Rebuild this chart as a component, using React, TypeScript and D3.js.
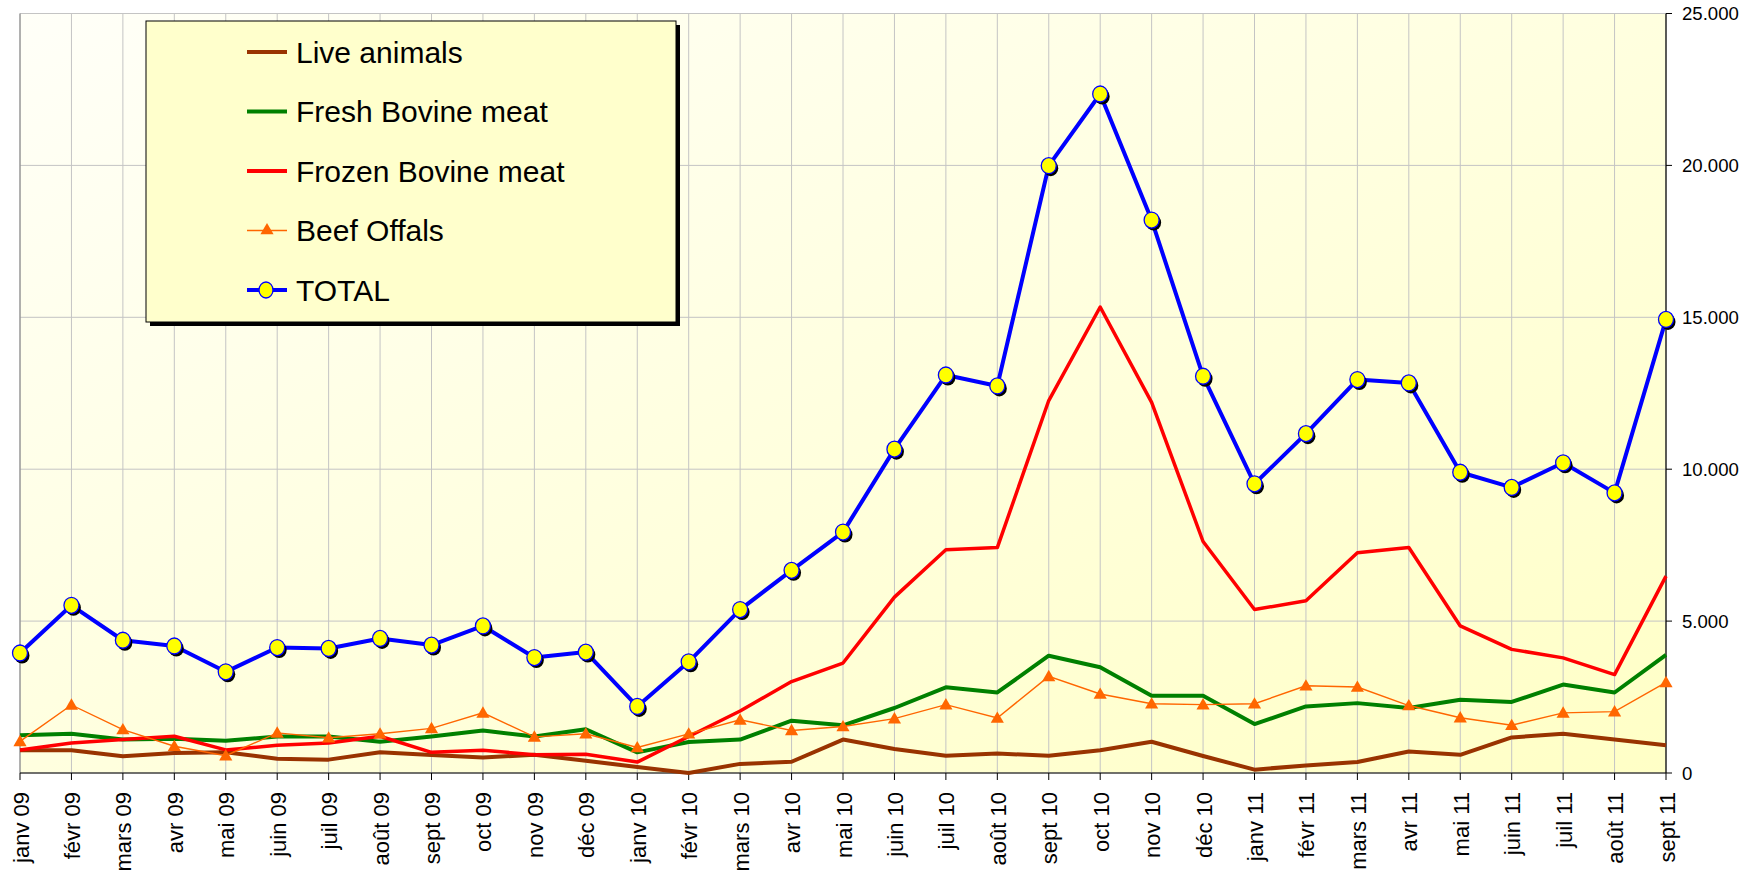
import React from "react";
import * as d3 from "d3";

// months on the category axis
const months = [
  "janv 09", "févr 09", "mars 09", "avr 09", "mai 09", "juin 09", "juil 09", "août 09", "sept 09", "oct 09", "nov 09", "déc 09",
  "janv 10", "févr 10", "mars 10", "avr 10", "mai 10", "juin 10", "juil 10", "août 10", "sept 10", "oct 10", "nov 10", "déc 10",
  "janv 11", "févr 11", "mars 11", "avr 11", "mai 11", "juin 11", "juil 11", "août 11", "sept 11",
];

const liveAnimals = [750, 750, 550, 660, 680, 470, 440, 680, 590, 510, 600, 400, 200, 0, 300, 370, 1100, 790, 570, 640, 570, 750, 1030, 560, 110, 250, 360, 710, 600, 1170, 1290, 1100, 910];
const freshBovine = [1240, 1290, 1100, 1130, 1060, 1200, 1200, 1030, 1200, 1400, 1200, 1440, 680, 1020, 1100, 1720, 1570, 2140, 2820, 2650, 3860, 3480, 2540, 2540, 1610, 2190, 2300, 2140, 2410, 2340, 2910, 2650, 3890];
const frozenBovine = [760, 990, 1100, 1210, 760, 910, 990, 1210, 680, 750, 600, 620, 360, 1200, 2040, 3010, 3620, 5790, 7350, 7420, 12260, 15340, 12200, 7620, 5380, 5670, 7250, 7420, 4840, 4070, 3790, 3240, 6480];
const beefOffals = [1040, 2240, 1430, 880, 570, 1320, 1160, 1290, 1470, 1980, 1190, 1290, 840, 1290, 1750, 1400, 1530, 1790, 2250, 1810, 3180, 2600, 2280, 2250, 2280, 2870, 2830, 2220, 1820, 1570, 1980, 2020, 2980];
const total = [3950, 5520, 4370, 4180, 3330, 4130, 4100, 4430, 4210, 4840, 3800, 3980, 2190, 3660, 5380, 6670, 7930, 10660, 13100, 12740, 19990, 22350, 18200, 13060, 9520, 11170, 12950, 12840, 9900, 9400, 10210, 9220, 14930];

const yTicks = [0, 5000, 10000, 15000, 20000, 25000];

const W = 1757;
const H = 874;
const FONT = "'Liberation Sans', Arial, sans-serif";

const App = () => {
  const x = d3.scalePoint<string>().domain(months).range([20, 1666]);
  const y = d3.scaleLinear().domain([0, 25000]).range([773, 13.5]);

  const line = (vals: number[]) =>
    d3.line<number>()
      .x((d, i) => x(months[i]) as number)
      .y((d) => y(d))(vals) as string;

  const fmt = (v: number) => (v === 0 ? "0" : d3.format(",")(v).replace(/,/g, "."));
  const tri = d3.symbol().type(d3.symbolTriangle).size(75)() as string;

  const series = [
    { name: "Live animals", vals: liveAnimals, color: "#993300", w: 4 },
    { name: "Fresh Bovine meat", vals: freshBovine, color: "#008000", w: 4 },
    { name: "Frozen Bovine meat", vals: frozenBovine, color: "#FF0000", w: 3.5 },
  ];

  const legend = [
    { name: "Live animals", color: "#993300", w: 4, mark: "" },
    { name: "Fresh Bovine meat", color: "#008000", w: 4, mark: "" },
    { name: "Frozen Bovine meat", color: "#FF0000", w: 4, mark: "" },
    { name: "Beef Offals", color: "#FF6600", w: 1.5, mark: "tri" },
    { name: "TOTAL", color: "#0000FF", w: 4, mark: "circle" },
  ];

  const x0 = 20, x1 = 1666, yTop = 13.5, yBot = 773;

  return (
    <div style={{ position: "absolute", left: 0, top: 0 }}>
      <svg width={W} height={H} style={{ display: "block", background: "#fff" }}>
        <defs>
          <linearGradient id="bg" x1="0" y1="0" x2="1" y2="1">
            <stop offset="0" stopColor="#FFFFF8" />
            <stop offset="1" stopColor="#FFFFC6" />
          </linearGradient>
        </defs>
        <rect x={x0} y={yTop} width={x1 - x0} height={yBot - yTop} fill="url(#bg)" />

        {/* grid */}
        {months.map((m) => (
          <line key={m} x1={x(m)} x2={x(m)} y1={yTop} y2={yBot} stroke="#C4C4C4" strokeWidth={1} />
        ))}
        {yTicks.map((t) => (
          <line key={t} x1={x0} x2={x1} y1={y(t)} y2={y(t)} stroke="#C4C4C4" strokeWidth={1} />
        ))}
        <line x1={x0} x2={x0} y1={yTop} y2={yBot} stroke="#808080" strokeWidth={1} />

        {/* axes */}
        <line x1={x0} x2={x1} y1={yBot} y2={yBot} stroke="#000" strokeWidth={1.2} />
        <line x1={x1} x2={x1} y1={yTop} y2={yBot} stroke="#000" strokeWidth={1.2} />
        {months.map((m) => (
          <g key={m}>
            <line x1={x(m)} x2={x(m)} y1={yBot} y2={yBot + 7} stroke="#000" strokeWidth={1} />
            <text
              transform={`translate(${(x(m) as number) + 1},${792}) rotate(-90)`}
              textAnchor="end"
              dominantBaseline="central"
              fontFamily={FONT}
              fontSize={22}
              fill="#000"
            >
              {m}
            </text>
          </g>
        ))}
        {yTicks.map((t) => (
          <g key={t}>
            <line x1={x1} x2={x1 + 6} y1={y(t)} y2={y(t)} stroke="#000" strokeWidth={1} />
            <text x={x1 + 16} y={y(t)} dominantBaseline="central" fontFamily={FONT} fontSize={18.6} fill="#000">
              {fmt(t)}
            </text>
          </g>
        ))}

        {/* series */}
        {series.map((s) => (
          <path key={s.name} d={line(s.vals)} fill="none" stroke={s.color} strokeWidth={s.w} strokeLinejoin="round" />
        ))}
        <path d={line(beefOffals)} fill="none" stroke="#FF6600" strokeWidth={1.4} />
        {beefOffals.map((v, i) => (
          <path key={i} d={tri} transform={`translate(${x(months[i])},${y(v) + 1})`} fill="#FF6600" />
        ))}
        <path d={line(total)} fill="none" stroke="#0000FF" strokeWidth={4} strokeLinejoin="round" />
        {total.map((v, i) => (
          <g key={i}>
            <ellipse cx={(x(months[i]) as number) + 2} cy={y(v) + 2.5} rx={7.5} ry={8} fill="#000" />
            <ellipse cx={x(months[i])} cy={y(v)} rx={7.5} ry={8} fill="#FFFF00" stroke="#0000FF" strokeWidth={1.3} />
          </g>
        ))}

        {/* legend */}
        <rect x={150} y={25} width={530} height={301} fill="#000" />
        <rect x={146} y={21} width={530} height={301} fill="#FFFFCC" stroke="#000" strokeWidth={1} />
        {legend.map((l, i) => {
          const ly = 52 + i * 59.5;
          return (
            <g key={l.name}>
              <line x1={247} x2={287} y1={ly} y2={ly} stroke={l.color} strokeWidth={l.w} />
              {l.mark === "tri" && <path d={tri} transform={`translate(267,${ly})`} fill="#FF6600" />}
              {l.mark === "circle" && (
                <ellipse cx={266} cy={ly} rx={7} ry={8} fill="#FFFF00" stroke="#0000FF" strokeWidth={1.3} />
              )}
              <text x={296} y={ly} dominantBaseline="central" fontFamily={FONT} fontSize={30} fill="#000">
                {l.name}
              </text>
            </g>
          );
        })}
      </svg>
    </div>
  );
};

export default App;
